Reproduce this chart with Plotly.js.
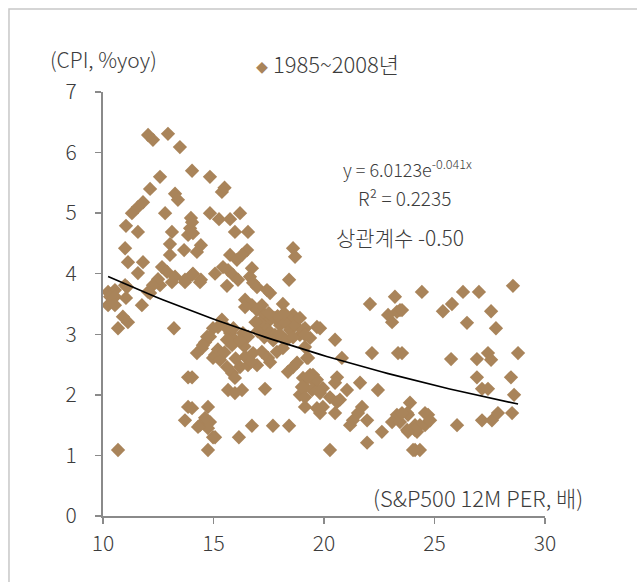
<!DOCTYPE html>
<html>
<head>
<meta charset="utf-8">
<script src="https://cdn.plot.ly/plotly-3.0.1.min.js"></script>
<style>html,body{margin:0;padding:0;background:#fff;}#chart{width:637px;height:582px;}</style>
</head>
<body>
<div id="chart"></div>
<script>
// S&P500 12M forward PER (x) vs CPI %yoy (y), 1985~2008
var perX = [
12.04,12.26,12.94,13.48,12.58,14.03,14.84,12.13,13.26,13.39,11.81,11.58,11.31,12.81,13.98,14.84,11.04,11.58,13.12,13.94,13.85,13.03,14.43,13.67,11.00,11.13,11.81,13.03,11.58,12.67,12.90,13.26,13.71,14.07,14.43,12.49,12.58,10.23,10.54,11.00,12.04,
10.32,10.54,11.09,12.26,13.12,13.71,14.39,12.13,10.23,10.54,11.04,11.76,10.90,11.13,10.68,13.21,14.98,14.62,14.48,14.25,14.98,13.85,13.85,14.75,13.71,14.39,14.84,14.75,14.98,10.68,14.75,
15.38,15.50,15.25,15.75,16.20,15.97,16.56,14.03,14.07,14.25,18.60,18.69,15.75,16.06,16.52,16.29,15.43,15.66,15.88,16.11,15.07,14.03,16.74,16.65,16.79,16.97,17.42,17.56,15.61,18.42,16.43,16.74,16.43,16.97,17.19,18.14,18.60,18.46,15.38,15.61,15.20,14.71,15.75,15.88,16.33,16.56,19.68,17.33,17.56,17.78,18.01,18.23,18.46,18.69,18.91,19.14,19.37,17.47,17.78,18.14,17.24,18.91,17.10,17.00,17.30,17.70,18.00,18.30,18.60,17.90,18.20,16.90,17.50,
14.84,14.52,15.07,15.29,15.61,15.84,15.61,15.84,15.97,16.43,16.79,17.19,17.47,17.56,16.20,16.56,16.97,15.66,16.29,15.97,17.33,17.87,18.14,18.60,18.37,18.78,19.23,19.05,19.37,19.59,19.14,19.46,19.73,18.91,19.14,19.68,14.03,14.03,14.62,14.30,15.07,16.74,17.69,18.42,16.15,15.20,15.50,16.00,16.40,16.70,15.90,16.20,
24.43,22.08,23.21,23.44,22.90,23.08,23.30,19.82,19.05,19.14,20.50,19.14,22.17,23.35,19.28,20.81,19.50,19.68,19.28,19.95,19.82,20.27,20.59,20.50,21.04,21.63,22.44,19.00,19.14,20.59,20.72,19.95,19.82,20.50,21.72,21.54,21.31,21.18,21.95,23.30,23.08,23.44,23.80,23.89,23.76,24.12,24.21,24.57,24.71,22.62,21.95,20.27,24.12,24.34,
26.29,27.01,28.55,25.38,25.79,27.56,26.47,27.78,23.53,23.53,25.75,26.92,27.42,27.56,28.78,26.92,27.15,27.42,28.46,28.60,23.76,23.53,24.57,24.80,24.34,24.12,23.80,26.02,27.15,27.60,27.87,28.51,24.03
];
var cpiY = [
6.29,6.21,6.31,6.09,5.60,5.70,5.60,5.40,5.32,5.22,5.18,5.10,5.00,5.00,4.92,5.00,4.79,4.69,4.69,4.75,4.64,4.49,4.47,4.39,4.42,4.19,4.19,4.31,4.01,4.11,4.03,3.95,3.90,4.00,3.90,3.91,3.81,3.70,3.73,3.81,3.70,
3.62,3.62,3.78,3.81,3.86,3.86,3.86,3.68,3.48,3.48,3.60,3.48,3.29,3.20,3.10,3.10,3.10,2.87,2.77,2.69,2.61,2.29,1.80,1.80,1.58,1.50,1.55,1.45,1.30,1.09,1.09,
5.35,5.42,4.90,4.90,5.00,4.69,4.69,4.85,4.67,4.36,4.42,4.28,4.31,4.23,4.39,4.31,4.11,4.06,3.98,3.90,4.00,3.98,4.09,3.95,3.85,3.78,3.73,3.68,3.80,3.90,3.57,3.48,3.45,3.40,3.48,3.50,3.32,3.24,3.24,3.10,3.12,2.96,3.02,2.94,3.02,2.96,3.12,3.32,3.24,3.27,3.15,3.20,3.07,3.15,2.99,3.10,2.94,3.07,2.99,2.94,3.15,3.27,3.20,3.05,2.95,2.90,3.00,2.90,2.95,3.30,3.35,3.20,3.35,
2.96,2.82,2.66,2.58,2.91,2.82,2.46,2.36,2.28,2.63,2.69,2.71,2.61,2.54,2.46,2.49,2.49,2.08,2.08,2.03,2.10,2.71,2.77,2.46,2.38,2.53,2.61,2.28,2.33,2.21,2.13,2.08,2.08,2.00,1.80,1.78,2.29,1.78,1.62,1.47,1.30,1.49,1.49,1.49,1.30,2.75,2.70,2.60,2.80,2.55,3.10,2.90,
3.70,3.50,3.62,3.40,3.32,3.20,3.37,3.10,3.07,2.99,2.91,2.79,2.69,2.69,2.61,2.61,2.33,2.25,2.29,2.11,2.03,1.96,2.29,2.20,2.08,2.20,2.08,2.13,1.96,1.88,1.92,1.80,1.70,1.70,1.80,1.70,1.58,1.50,1.58,1.67,1.55,1.55,1.67,1.87,1.42,1.50,1.39,1.50,1.67,1.39,1.21,1.09,1.09,1.09,
3.70,3.70,3.80,3.38,3.50,3.38,3.19,3.10,3.40,2.69,2.59,2.59,2.69,2.58,2.69,2.29,2.10,2.10,2.29,2.00,1.70,1.70,1.70,1.58,1.50,1.42,1.39,1.50,1.58,1.58,1.70,1.70,1.09
];
var seriesName = "1985~2008년";
// Exponential trendline as printed on the chart: y = 6.0123 e^(-0.041x)
var trendA = 6.0123, trendB = -0.041;
var xTicks = [10, 15, 20, 25, 30];
var yTicks = [0, 1, 2, 3, 4, 5, 6, 7];

var xmin = Math.min.apply(null, perX), xmax = Math.max.apply(null, perX);
var tx = [], ty = [];
for (var i = 0; i <= 60; i++) {
  var xv = xmin + (xmax - xmin) * i / 60;
  tx.push(xv); ty.push(trendA * Math.exp(trendB * xv));
}

var FONT = '"Noto Sans CJK KR", "Noto Sans", sans-serif';
var TXT = '#3c3c3c';
var BROWN = '#A9845A';
var AX = '#8a8a8a';
function f(sz) { return {family: FONT, size: sz, color: TXT, weight: 300}; }

var traces = [
  {x: perX, y: cpiY, type: 'scatter', mode: 'markers', name: seriesName,
   marker: {symbol: 'diamond', size: 11, color: BROWN, line: {width: 0}}, showlegend: false, cliponaxis: false},
  {x: tx, y: ty, type: 'scatter', mode: 'lines', line: {color: '#000', width: 1.6}, showlegend: false, hoverinfo: 'skip'}
];

var layout = {
  width: 637, height: 582,
  margin: {l: 103, r: 92, t: 92, b: 66},
  paper_bgcolor: '#fff', plot_bgcolor: '#fff',
  font: f(20),
  showlegend: false,
  xaxis: {range: [10, 30], tickvals: xTicks, ticktext: xTicks.map(String), showgrid: false, zeroline: false,
    showline: true, linecolor: AX, linewidth: 2, ticks: 'outside', ticklen: 6, tickcolor: AX, tickwidth: 1.5,
    tickfont: f(21), ticklabelstandoff: 2},
  yaxis: {range: [0, 7], tickvals: yTicks, ticktext: yTicks.map(String), showgrid: false, zeroline: false,
    showline: true, linecolor: AX, linewidth: 2, ticks: 'outside', ticklen: 6, tickcolor: AX, tickwidth: 1.5,
    tickfont: f(21), ticklabelstandoff: 14},
  shapes: [
    {type: 'rect', xref: 'paper', yref: 'paper', x0: -0.2127, x1: 1.3, y0: -0.3, y1: 1.1958,
     line: {color: '#c8c8c8', width: 1.5}, fillcolor: 'rgba(0,0,0,0)', layer: 'below'}
  ],
  annotations: [
    {xref: 'paper', yref: 'paper', x: 0.0, y: 1.078, text: '(CPI, %yoy)', showarrow: false,
     xanchor: 'center', yanchor: 'middle', font: f(21)},
    {xref: 'paper', yref: 'paper', x: 0.342, y: 1.068, text: '<span style="color:' + BROWN + ';font-size:12px">◆</span> ' + seriesName, showarrow: false,
     xanchor: 'left', yanchor: 'middle', font: f(22)},
    {xref: 'paper', yref: 'paper', x: 0.688, y: 0.821, text: 'y = 6.0123e<sup>-0.041x</sup>', showarrow: false,
     xanchor: 'center', yanchor: 'middle', font: f(18)},
    {xref: 'paper', yref: 'paper', x: 0.683, y: 0.752, text: 'R² = 0.2235', showarrow: false,
     xanchor: 'center', yanchor: 'middle', font: f(19)},
    {xref: 'paper', yref: 'paper', x: 0.672, y: 0.658, text: '상관계수 -0.50', showarrow: false,
     xanchor: 'center', yanchor: 'middle', font: f(21)},
    {xref: 'paper', yref: 'paper', x: 0.848, y: 0.045, text: '(S&P500 12M PER, 배)', showarrow: false,
     xanchor: 'center', yanchor: 'middle', font: f(22)}
  ]
};

Plotly.newPlot('chart', traces, layout, {displayModeBar: false, staticPlot: true});
</script>
</body>
</html>
